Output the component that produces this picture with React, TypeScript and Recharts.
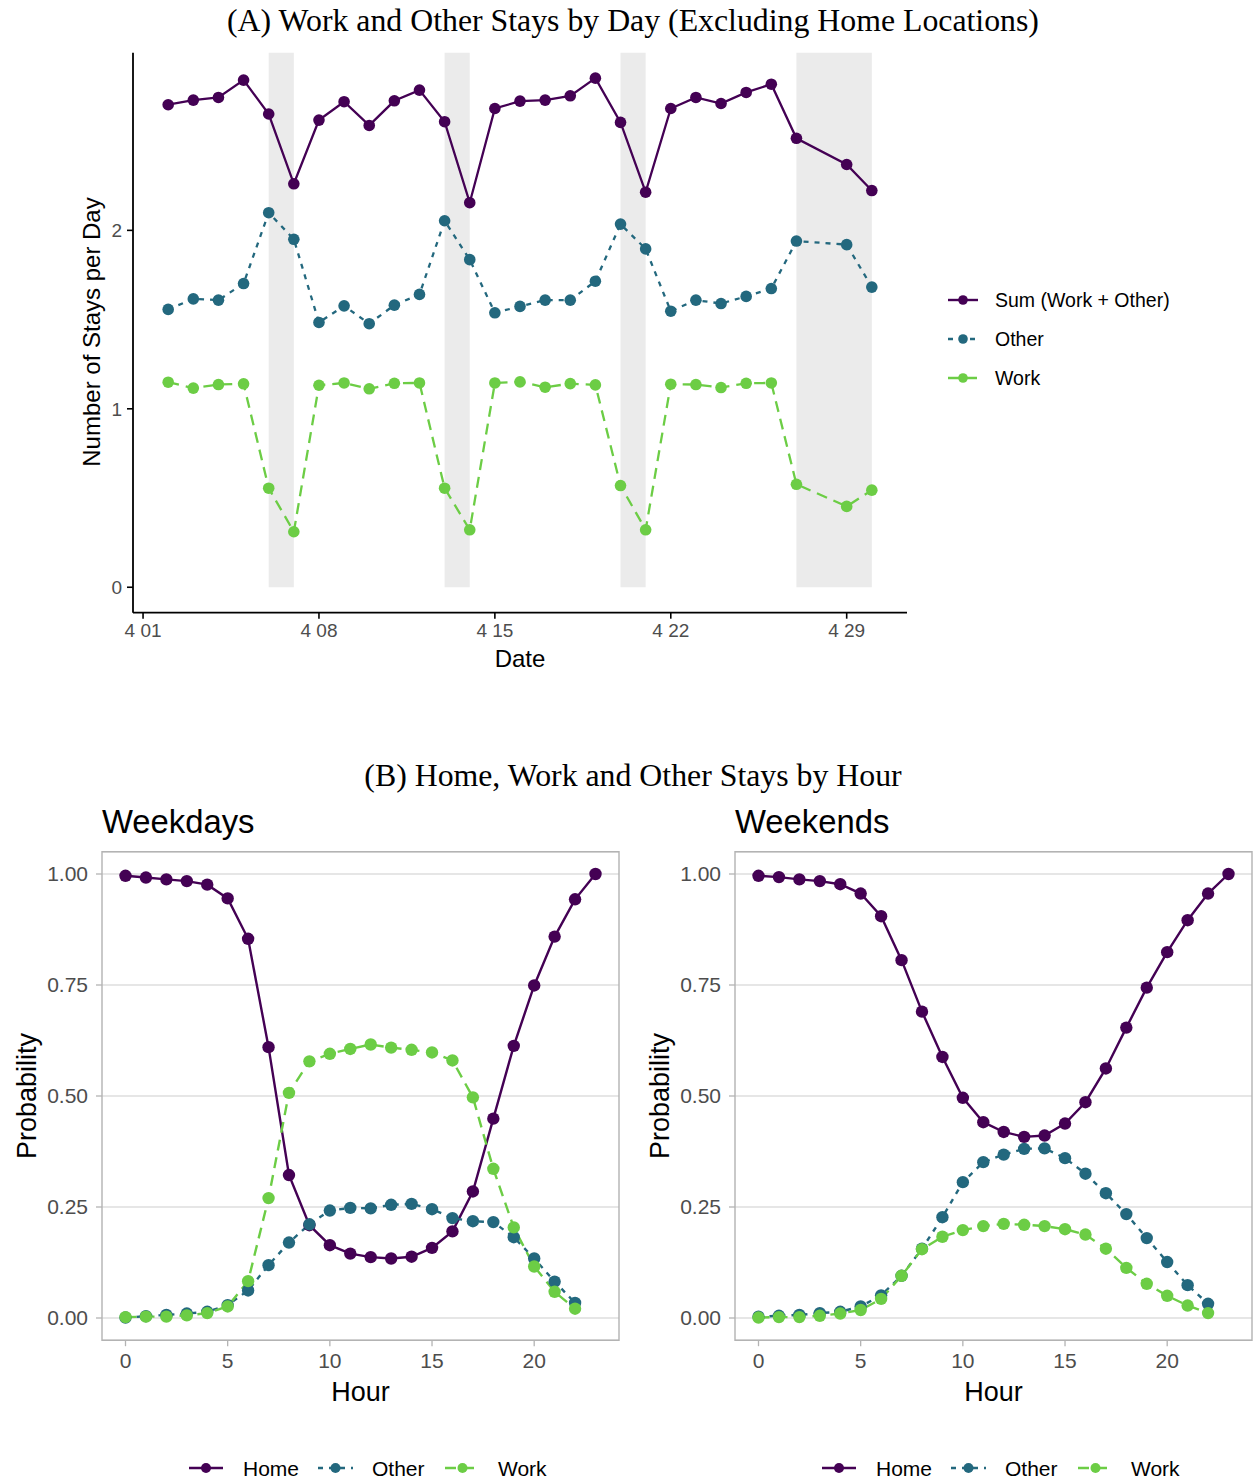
import React from 'react';
import { LineChart, Line, XAxis, YAxis, CartesianGrid, ReferenceArea } from 'recharts';

// ---------- DATA: panel A (stays by day) ----------
const dates = ['4/02','4/03','4/04','4/05','4/06','4/07','4/08','4/09','4/10','4/11','4/12','4/13','4/14','4/15',
  '4/16','4/17','4/18','4/19','4/20','4/21','4/22','4/23','4/24','4/25','4/26','4/27','4/29','4/30'];
const sumStays = [2.704,2.730,2.745,2.842,2.652,2.261,2.618,2.721,2.588,2.726,2.786,2.609,2.155,2.683,
  2.724,2.730,2.754,2.853,2.605,2.214,2.683,2.745,2.711,2.773,2.819,2.516,2.369,2.223];
const otherStays = [1.557,1.616,1.609,1.702,2.099,1.950,1.484,1.577,1.477,1.581,1.641,2.054,1.836,1.538,
  1.574,1.609,1.609,1.715,2.035,1.896,1.547,1.609,1.590,1.630,1.674,1.940,1.920,1.682];
const workStays = [1.149,1.116,1.136,1.140,0.555,0.311,1.132,1.145,1.112,1.143,1.145,0.555,0.322,1.145,
  1.151,1.121,1.141,1.134,0.570,0.322,1.138,1.136,1.119,1.143,1.145,0.577,0.453,0.544];
const shadeStart = ['4/06','4/13','4/20','4/27'];
const shadeEnd = ['4/07','4/14','4/21','4/30'];
const dateTickLabels = ['4 01','4 08','4 15','4 22','4 29'];
const stayTicks = [0, 1, 2];

// ---------- DATA: panel B (stays by hour) ----------
const hours = [0,1,2,3,4,5,6,7,8,9,10,11,12,13,14,15,16,17,18,19,20,21,22,23];
const wdHome = [0.996,0.992,0.988,0.984,0.976,0.945,0.854,0.610,0.322,0.209,0.164,0.145,0.137,0.134,0.138,0.158,0.195,0.285,0.449,0.613,0.749,0.859,0.943,1.000];
const wdOther = [0.001,0.004,0.007,0.010,0.014,0.029,0.062,0.119,0.170,0.211,0.242,0.248,0.247,0.255,0.257,0.245,0.225,0.218,0.216,0.182,0.134,0.082,0.034];
const wdWork = [0.002,0.003,0.003,0.006,0.011,0.026,0.083,0.270,0.507,0.578,0.595,0.606,0.616,0.609,0.604,0.598,0.580,0.497,0.336,0.204,0.116,0.059,0.021];
const weHome = [0.996,0.993,0.988,0.984,0.977,0.956,0.905,0.806,0.690,0.588,0.496,0.441,0.419,0.408,0.411,0.438,0.486,0.562,0.654,0.744,0.824,0.896,0.956,1.000];
const weOther = [0.003,0.005,0.007,0.011,0.014,0.026,0.051,0.095,0.156,0.227,0.306,0.351,0.368,0.381,0.382,0.360,0.325,0.281,0.234,0.180,0.126,0.074,0.032];
const weWork = [0.001,0.002,0.002,0.005,0.010,0.018,0.043,0.095,0.155,0.183,0.198,0.207,0.212,0.210,0.207,0.200,0.188,0.156,0.113,0.077,0.050,0.028,0.011];
const hourTicks = [0, 5, 10, 15, 20];
const probTicks = [0, 0.25, 0.5, 0.75, 1];

// ---------- styling ----------
const PURPLE = '#440154';
const TEAL = '#23687E';
const GREEN = '#6CCD45';
const SANS = '"Liberation Sans", Arial, Helvetica, sans-serif';
const SERIF = '"Liberation Serif", "Times New Roman", serif';
const DASH_OTHER = '5 6';
const DASH_WORK = '11 7';

const dayOf = (d: string) => parseInt(d.split('/')[1], 10) - 1; // 4/01 -> 0
const dayRows = dates.map((d, i) => ({ day: dayOf(d), sum: sumStays[i], other: otherStays[i], work: workStays[i] }));
const tickDays = dateTickLabels.map((l) => parseInt(l.split(' ')[1], 10) - 1);
const tickLabelOf = (v: number) => dateTickLabels[tickDays.indexOf(v)] ?? '';

const firstDay = dayOf(dates[0]);
const lastDay = dayOf(dates[dates.length - 1]);
const maxStay = Math.max(...sumStays);
const xPadA = (lastDay - firstDay) * 0.05;
const yPadA = maxStay * 0.05;
const xDomainA: [number, number] = [firstDay - xPadA, lastDay + xPadA];
const yDomainA: [number, number] = [-yPadA, maxStay + yPadA];

const hourRows = (home: number[], other: number[], work: number[]) =>
  hours.map((h, i) => ({ hour: h, home: home[i], other: other[i], work: work[i] }));
const xDomainB: [number, number] = [-1.15, 24.15];
const yDomainB: [number, number] = [-0.05, 1.05];

function DayChart() {
  return (
    <LineChart width={920} height={700} data={dayRows} margin={{ top: 52.7, right: 13, bottom: 27.3, left: 0 }}>
      {shadeStart.map((s, i) => (
        <ReferenceArea key={s} x1={dayOf(s)} x2={dayOf(shadeEnd[i])} y1={0} y2={yDomainA[1]}
          fill="#ebebeb" fillOpacity={1} stroke="none" ifOverflow="visible" />
      ))}
      <XAxis type="number" dataKey="day" domain={xDomainA} ticks={tickDays} interval={0}
        tickFormatter={tickLabelOf} height={60} allowDataOverflow
        axisLine={{ stroke: '#000', strokeWidth: 1.8 }} tickLine={{ stroke: '#000', strokeWidth: 1.6 }}
        tickSize={6} tickMargin={5} tick={{ fill: '#4d4d4d', fontSize: 19, fontFamily: SANS }} />
      <YAxis type="number" domain={yDomainA} ticks={stayTicks} width={133} allowDataOverflow interval={0}
        axisLine={{ stroke: '#000', strokeWidth: 1.8 }} tickLine={{ stroke: '#000', strokeWidth: 1.6 }}
        tickSize={6} tickMargin={5} tick={{ fill: '#4d4d4d', fontSize: 19, fontFamily: SANS }} />
      <Line type="linear" dataKey="sum" stroke={PURPLE} strokeWidth={2.3} isAnimationActive={false} activeDot={false}
        dot={{ r: 5.8, fill: PURPLE, stroke: PURPLE, strokeWidth: 0 }} />
      <Line type="linear" dataKey="other" stroke={TEAL} strokeWidth={2.3} strokeDasharray={DASH_OTHER} isAnimationActive={false}
        activeDot={false} dot={{ r: 5.8, fill: TEAL, stroke: TEAL, strokeWidth: 0, strokeDasharray: '0' }} />
      <Line type="linear" dataKey="work" stroke={GREEN} strokeWidth={2.3} strokeDasharray={DASH_WORK} isAnimationActive={false}
        activeDot={false} dot={{ r: 5.8, fill: GREEN, stroke: GREEN, strokeWidth: 0, strokeDasharray: '0' }} />
    </LineChart>
  );
}

function HourChart({ rows }: { rows: any[] }) {
  return (
    <LineChart width={630} height={560} data={rows} margin={{ top: 21.8, right: 11, bottom: 9.8, left: 0 }}>
      <CartesianGrid vertical={false} stroke="#dedede" strokeWidth={1.3} />
      <ReferenceArea x1={xDomainB[0]} x2={xDomainB[1]} y1={yDomainB[0]} y2={yDomainB[1]}
        fill="none" fillOpacity={0} stroke="#b3b3b3" strokeWidth={1.4} ifOverflow="visible" />
      <XAxis type="number" dataKey="hour" domain={xDomainB} ticks={hourTicks} interval={0} height={40} allowDataOverflow
        axisLine={false} tickLine={{ stroke: '#b3b3b3', strokeWidth: 1.3 }} tickSize={6} tickMargin={7}
        tick={{ fill: '#4d4d4d', fontSize: 21, fontFamily: SANS }} />
      <YAxis type="number" domain={yDomainB} ticks={probTicks} interval={0} width={102} allowDataOverflow
        axisLine={false} tickLine={{ stroke: '#b3b3b3', strokeWidth: 1.3 }} tickSize={6} tickMargin={8}
        tickFormatter={(v: number) => v.toFixed(2)}
        tick={{ fill: '#4d4d4d', fontSize: 21, fontFamily: SANS }} />
      <Line type="linear" dataKey="home" stroke={PURPLE} strokeWidth={2.4} isAnimationActive={false} activeDot={false}
        dot={{ r: 6.2, fill: PURPLE, stroke: PURPLE, strokeWidth: 0 }} />
      <Line type="linear" dataKey="other" stroke={TEAL} strokeWidth={2.4} strokeDasharray={DASH_OTHER} isAnimationActive={false}
        activeDot={false} dot={{ r: 6.2, fill: TEAL, stroke: TEAL, strokeWidth: 0, strokeDasharray: '0' }} />
      <Line type="linear" dataKey="work" stroke={GREEN} strokeWidth={2.4} strokeDasharray={DASH_WORK} isAnimationActive={false}
        activeDot={false} dot={{ r: 6.2, fill: GREEN, stroke: GREEN, strokeWidth: 0, strokeDasharray: '0' }} />
    </LineChart>
  );
}

function Key({ x1, x2, y, color, dash, r }: { x1: number; x2: number; y: number; color: string; dash?: string; r: number }) {
  return (
    <g>
      <line x1={x1} x2={x2} y1={y} y2={y} stroke={color} strokeWidth={2.4} strokeDasharray={dash} />
      <circle cx={(x1 + x2) / 2} cy={y} r={r} fill={color} />
    </g>
  );
}

function BottomLegend({ dx }: { dx: number }) {
  const y = 1468;
  const t = { fontSize: 21, fontFamily: SANS, fill: '#000' } as const;
  return (
    <g transform={`translate(${dx},0)`}>
      <Key x1={189} x2={223} y={y} color={PURPLE} r={5} />
      <text x={243} y={y + 7.5} {...t}>Home</text>
      <Key x1={318} x2={353} y={y} color={TEAL} dash={DASH_OTHER} r={5} />
      <text x={372} y={y + 7.5} {...t}>Other</text>
      <Key x1={445} x2={480} y={y} color={GREEN} dash={DASH_WORK} r={5} />
      <text x={498} y={y + 7.5} {...t}>Work</text>
    </g>
  );
}

export default function App() {
  const lg = { fontSize: 19.5, fontFamily: SANS, fill: '#000' } as const;
  return (
    <div style={{ position: 'absolute', left: 0, top: 0, width: 1254, height: 1483, background: '#fff', overflow: 'hidden' }}>
      <div style={{ position: 'absolute', left: 0, top: 0 }}>
        <DayChart />
      </div>
      <div style={{ position: 'absolute', left: 0, top: 830 }}>
        <HourChart rows={hourRows(wdHome, wdOther, wdWork)} />
      </div>
      <div style={{ position: 'absolute', left: 633, top: 830 }}>
        <HourChart rows={hourRows(weHome, weOther, weWork)} />
      </div>
      <svg width={1254} height={1483} style={{ position: 'absolute', left: 0, top: 0, pointerEvents: 'none' }}>
        <text x={633} y={31} textAnchor="middle" fontFamily={SERIF} fontSize={31.8} fill="#000">
          (A) Work and Other Stays by Day (Excluding Home Locations)
        </text>
        <text transform="translate(100,332) rotate(-90)" textAnchor="middle" fontFamily={SANS} fontSize={24} fill="#000">
          Number of Stays per Day
        </text>
        <text x={520} y={667} textAnchor="middle" fontFamily={SANS} fontSize={24} fill="#000">Date</text>

        <Key x1={948} x2={978} y={300} color={PURPLE} r={4.8} />
        <text x={995} y={307} {...lg}>Sum (Work + Other)</text>
        <Key x1={948} x2={978} y={339} color={TEAL} dash={DASH_OTHER} r={4.8} />
        <text x={995} y={346} {...lg}>Other</text>
        <Key x1={948} x2={978} y={378} color={GREEN} dash={DASH_WORK} r={4.8} />
        <text x={995} y={385} {...lg}>Work</text>

        <text x={633} y={786} textAnchor="middle" fontFamily={SERIF} fontSize={31.8} fill="#000">
          (B) Home, Work and Other Stays by Hour
        </text>
        <text x={102} y={833} fontFamily={SANS} fontSize={32.8} fill="#000">Weekdays</text>
        <text x={735} y={833} fontFamily={SANS} fontSize={32.8} fill="#000">Weekends</text>
        <text transform="translate(36,1096) rotate(-90)" textAnchor="middle" fontFamily={SANS} fontSize={27} fill="#000">Probability</text>
        <text transform="translate(669,1096) rotate(-90)" textAnchor="middle" fontFamily={SANS} fontSize={27} fill="#000">Probability</text>
        <text x={360.5} y={1401} textAnchor="middle" fontFamily={SANS} fontSize={27} fill="#000">Hour</text>
        <text x={993.5} y={1401} textAnchor="middle" fontFamily={SANS} fontSize={27} fill="#000">Hour</text>

        <BottomLegend dx={0} />
        <BottomLegend dx={633} />
      </svg>
    </div>
  );
}
